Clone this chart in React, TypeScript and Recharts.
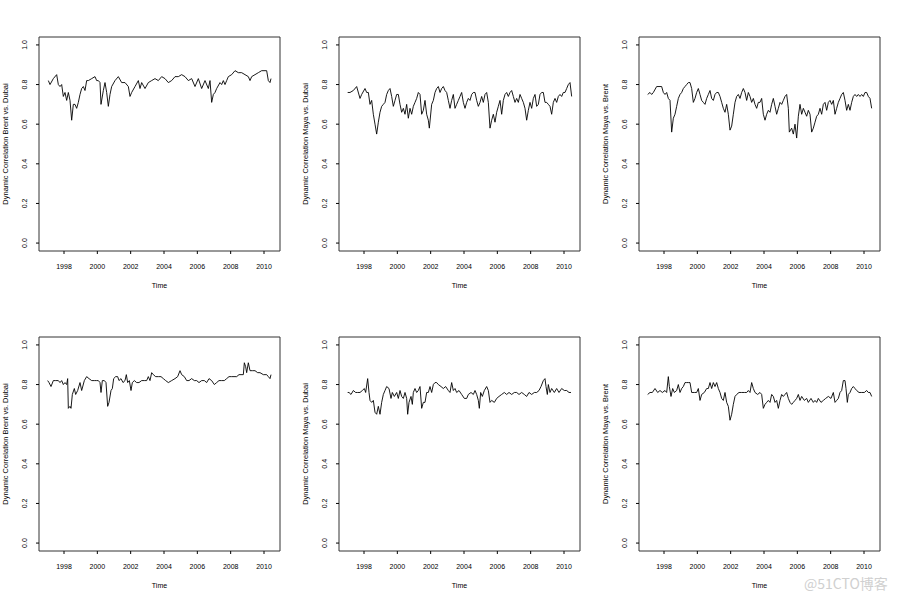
import { LineChart, Line, XAxis, YAxis, ReferenceArea } from "recharts";

// [year, dynamic correlation], one array per panel
const brentDubaiA: [number, number][] = [
  [1997.06, 0.82], [1997.16, 0.8], [1997.36, 0.83], [1997.56, 0.85], [1997.66, 0.8], [1997.76, 0.79],
  [1997.86, 0.8], [1997.96, 0.74], [1998.06, 0.76], [1998.16, 0.72], [1998.26, 0.76], [1998.36, 0.72],
  [1998.46, 0.62], [1998.56, 0.7], [1998.66, 0.7], [1998.76, 0.68], [1998.86, 0.71], [1998.96, 0.75],
  [1999.06, 0.78], [1999.16, 0.79], [1999.26, 0.77], [1999.36, 0.82], [1999.46, 0.82], [1999.66, 0.83],
  [1999.86, 0.84], [1999.96, 0.82], [2000.06, 0.82], [2000.16, 0.81], [2000.22, 0.7], [2000.36, 0.77],
  [2000.46, 0.81], [2000.56, 0.76], [2000.66, 0.69], [2000.76, 0.75], [2000.86, 0.79], [2001.06, 0.82],
  [2001.26, 0.84], [2001.46, 0.81], [2001.66, 0.81], [2001.86, 0.79], [2001.96, 0.74], [2002.06, 0.76],
  [2002.26, 0.79], [2002.46, 0.82], [2002.56, 0.78], [2002.66, 0.81], [2002.86, 0.78], [2003.06, 0.81],
  [2003.26, 0.82], [2003.46, 0.83], [2003.66, 0.82], [2003.86, 0.84], [2004.06, 0.83], [2004.26, 0.81],
  [2004.46, 0.82], [2004.66, 0.84], [2004.86, 0.84], [2005.06, 0.85], [2005.26, 0.84], [2005.46, 0.82],
  [2005.66, 0.83], [2005.86, 0.79], [2006.06, 0.83], [2006.26, 0.78], [2006.46, 0.82], [2006.66, 0.78],
  [2006.76, 0.82], [2006.86, 0.71], [2006.96, 0.75], [2007.06, 0.76], [2007.16, 0.78], [2007.36, 0.81],
  [2007.46, 0.8], [2007.56, 0.82], [2007.66, 0.8], [2007.76, 0.82], [2007.86, 0.84], [2008.06, 0.85],
  [2008.26, 0.87], [2008.46, 0.86], [2008.66, 0.86], [2008.86, 0.85], [2009.06, 0.84], [2009.16, 0.82],
  [2009.26, 0.84], [2009.46, 0.85], [2009.66, 0.86], [2009.86, 0.87], [2010.16, 0.87], [2010.26, 0.82],
  [2010.36, 0.81], [2010.42, 0.83],
];

const mayaDubaiA: [number, number][] = [
  [1997.02, 0.76], [1997.16, 0.76], [1997.36, 0.77], [1997.56, 0.79], [1997.76, 0.73], [1997.86, 0.75],
  [1998.06, 0.78], [1998.16, 0.76], [1998.26, 0.76], [1998.36, 0.7], [1998.46, 0.72], [1998.56, 0.65],
  [1998.66, 0.6], [1998.76, 0.55], [1998.86, 0.61], [1998.96, 0.66], [1999.06, 0.69], [1999.16, 0.7],
  [1999.26, 0.71], [1999.36, 0.75], [1999.46, 0.77], [1999.56, 0.78], [1999.66, 0.74], [1999.76, 0.69],
  [1999.86, 0.72], [1999.96, 0.75], [2000.06, 0.75], [2000.16, 0.7], [2000.26, 0.66], [2000.36, 0.68],
  [2000.46, 0.65], [2000.56, 0.7], [2000.66, 0.63], [2000.76, 0.68], [2000.86, 0.65], [2000.96, 0.69],
  [2001.06, 0.71], [2001.16, 0.73], [2001.26, 0.76], [2001.36, 0.75], [2001.46, 0.65], [2001.56, 0.67],
  [2001.66, 0.72], [2001.76, 0.65], [2001.86, 0.62], [2001.92, 0.58], [2002.06, 0.7], [2002.16, 0.72],
  [2002.26, 0.76], [2002.36, 0.78], [2002.46, 0.79], [2002.56, 0.76], [2002.66, 0.78], [2002.76, 0.79],
  [2002.86, 0.77], [2002.96, 0.76], [2003.06, 0.72], [2003.16, 0.68], [2003.26, 0.72], [2003.36, 0.75],
  [2003.46, 0.68], [2003.56, 0.7], [2003.66, 0.72], [2003.76, 0.74], [2003.86, 0.76], [2003.96, 0.71],
  [2004.06, 0.68], [2004.16, 0.71], [2004.26, 0.73], [2004.36, 0.72], [2004.46, 0.75], [2004.56, 0.76],
  [2004.66, 0.76], [2004.76, 0.72], [2004.86, 0.69], [2004.96, 0.71], [2005.06, 0.74], [2005.16, 0.71],
  [2005.26, 0.75], [2005.36, 0.76], [2005.46, 0.71], [2005.56, 0.58], [2005.66, 0.62], [2005.76, 0.65],
  [2005.86, 0.61], [2005.96, 0.66], [2006.06, 0.69], [2006.16, 0.72], [2006.26, 0.65], [2006.36, 0.72],
  [2006.46, 0.75], [2006.56, 0.76], [2006.66, 0.74], [2006.76, 0.76], [2006.86, 0.77], [2006.96, 0.74],
  [2007.06, 0.71], [2007.16, 0.73], [2007.26, 0.71], [2007.36, 0.75], [2007.46, 0.73], [2007.56, 0.71],
  [2007.66, 0.68], [2007.76, 0.62], [2007.86, 0.67], [2007.96, 0.71], [2008.06, 0.68], [2008.16, 0.73],
  [2008.26, 0.75], [2008.36, 0.69], [2008.46, 0.7], [2008.56, 0.75], [2008.66, 0.76], [2008.76, 0.76],
  [2008.86, 0.71], [2008.96, 0.71], [2009.06, 0.7], [2009.16, 0.69], [2009.26, 0.65], [2009.36, 0.71],
  [2009.46, 0.73], [2009.56, 0.71], [2009.66, 0.74], [2009.76, 0.75], [2009.86, 0.74], [2009.96, 0.76],
  [2010.06, 0.76], [2010.16, 0.78], [2010.26, 0.8], [2010.36, 0.81], [2010.46, 0.74],
];

const mayaBrentA: [number, number][] = [
  [1997.02, 0.75], [1997.16, 0.76], [1997.26, 0.75], [1997.36, 0.76], [1997.56, 0.79], [1997.76, 0.79],
  [1997.86, 0.79], [1997.96, 0.76], [1998.06, 0.75], [1998.16, 0.76], [1998.26, 0.73], [1998.36, 0.72],
  [1998.46, 0.56], [1998.56, 0.63], [1998.66, 0.65], [1998.76, 0.69], [1998.86, 0.73], [1998.96, 0.75],
  [1999.06, 0.76], [1999.16, 0.78], [1999.26, 0.79], [1999.36, 0.8], [1999.46, 0.81], [1999.56, 0.81],
  [1999.66, 0.78], [1999.76, 0.71], [1999.86, 0.73], [1999.96, 0.76], [2000.06, 0.78], [2000.16, 0.75],
  [2000.26, 0.72], [2000.36, 0.71], [2000.46, 0.7], [2000.56, 0.73], [2000.66, 0.75], [2000.76, 0.77],
  [2000.86, 0.73], [2000.96, 0.72], [2001.06, 0.75], [2001.16, 0.76], [2001.26, 0.76], [2001.36, 0.74],
  [2001.46, 0.71], [2001.56, 0.68], [2001.66, 0.66], [2001.76, 0.7], [2001.86, 0.65], [2001.96, 0.57],
  [2002.06, 0.59], [2002.16, 0.65], [2002.26, 0.71], [2002.36, 0.74], [2002.46, 0.75], [2002.56, 0.73],
  [2002.66, 0.76], [2002.76, 0.78], [2002.86, 0.76], [2002.96, 0.72], [2003.06, 0.76], [2003.16, 0.74],
  [2003.26, 0.71], [2003.36, 0.73], [2003.46, 0.7], [2003.56, 0.68], [2003.66, 0.71], [2003.76, 0.71],
  [2003.86, 0.73], [2003.96, 0.65], [2004.06, 0.62], [2004.16, 0.65], [2004.26, 0.67], [2004.36, 0.66],
  [2004.46, 0.7], [2004.56, 0.73], [2004.66, 0.69], [2004.76, 0.65], [2004.86, 0.68], [2004.96, 0.71],
  [2005.06, 0.7], [2005.16, 0.72], [2005.26, 0.74], [2005.36, 0.75], [2005.46, 0.68], [2005.52, 0.56],
  [2005.66, 0.58], [2005.76, 0.55], [2005.86, 0.6], [2005.96, 0.53], [2006.06, 0.64], [2006.16, 0.7],
  [2006.26, 0.65], [2006.36, 0.68], [2006.46, 0.66], [2006.56, 0.64], [2006.66, 0.67], [2006.76, 0.65],
  [2006.86, 0.56], [2006.96, 0.58], [2007.06, 0.61], [2007.16, 0.64], [2007.26, 0.65], [2007.36, 0.68],
  [2007.46, 0.65], [2007.56, 0.7], [2007.66, 0.71], [2007.76, 0.67], [2007.86, 0.71], [2007.96, 0.72],
  [2008.06, 0.7], [2008.16, 0.72], [2008.26, 0.65], [2008.36, 0.68], [2008.46, 0.71], [2008.56, 0.73],
  [2008.66, 0.75], [2008.76, 0.76], [2008.86, 0.72], [2008.96, 0.67], [2009.06, 0.7], [2009.16, 0.67],
  [2009.26, 0.71], [2009.36, 0.74], [2009.46, 0.75], [2009.56, 0.74], [2009.66, 0.75], [2009.76, 0.74],
  [2009.86, 0.75], [2009.96, 0.74], [2010.06, 0.76], [2010.16, 0.76], [2010.26, 0.74], [2010.36, 0.73],
  [2010.46, 0.68],
];

const brentDubaiB: [number, number][] = [
  [1997.02, 0.82], [1997.1, 0.81], [1997.22, 0.79], [1997.36, 0.82], [1997.5, 0.82], [1997.66, 0.82],
  [1997.76, 0.81], [1997.86, 0.82], [1997.96, 0.8], [1998.06, 0.81], [1998.16, 0.8], [1998.22, 0.83],
  [1998.26, 0.68], [1998.36, 0.69], [1998.42, 0.68], [1998.5, 0.75], [1998.62, 0.78], [1998.7, 0.75],
  [1998.82, 0.77], [1998.96, 0.81], [1999.06, 0.77], [1999.22, 0.82], [1999.36, 0.84], [1999.5, 0.83],
  [1999.66, 0.82], [1999.82, 0.82], [1999.96, 0.82], [2000.06, 0.82], [2000.16, 0.81], [2000.22, 0.76],
  [2000.3, 0.82], [2000.42, 0.82], [2000.52, 0.81], [2000.62, 0.69], [2000.7, 0.71], [2000.82, 0.77],
  [2000.9, 0.78], [2000.98, 0.83], [2001.1, 0.84], [2001.22, 0.84], [2001.3, 0.82], [2001.42, 0.83],
  [2001.54, 0.81], [2001.66, 0.82], [2001.74, 0.85], [2001.82, 0.81], [2001.92, 0.82], [2002.02, 0.77],
  [2002.1, 0.81], [2002.22, 0.82], [2002.36, 0.81], [2002.5, 0.81], [2002.66, 0.82], [2002.82, 0.82],
  [2002.96, 0.82], [2003.06, 0.84], [2003.16, 0.82], [2003.26, 0.86], [2003.36, 0.85], [2003.5, 0.84],
  [2003.66, 0.84], [2003.82, 0.84], [2003.96, 0.83], [2004.1, 0.82], [2004.26, 0.81], [2004.46, 0.82],
  [2004.66, 0.83], [2004.82, 0.84], [2004.96, 0.87], [2005.06, 0.85], [2005.22, 0.84], [2005.36, 0.82],
  [2005.5, 0.82], [2005.66, 0.83], [2005.82, 0.82], [2005.96, 0.82], [2006.1, 0.81], [2006.26, 0.82],
  [2006.42, 0.82], [2006.56, 0.81], [2006.7, 0.83], [2006.86, 0.82], [2007.02, 0.8], [2007.16, 0.81],
  [2007.3, 0.82], [2007.46, 0.82], [2007.62, 0.82], [2007.76, 0.83], [2007.9, 0.84], [2008.06, 0.84],
  [2008.2, 0.84], [2008.36, 0.84], [2008.5, 0.85], [2008.76, 0.85], [2008.82, 0.91], [2008.9, 0.89],
  [2008.96, 0.86], [2009.06, 0.91], [2009.16, 0.87], [2009.3, 0.87], [2009.46, 0.87], [2009.62, 0.86],
  [2009.76, 0.86], [2009.96, 0.85], [2010.16, 0.85], [2010.26, 0.84], [2010.36, 0.83], [2010.42, 0.85],
];

const mayaDubaiB: [number, number][] = [
  [1997.02, 0.76], [1997.1, 0.76], [1997.22, 0.75], [1997.36, 0.77], [1997.5, 0.76], [1997.62, 0.76],
  [1997.76, 0.76], [1997.9, 0.77], [1998.02, 0.78], [1998.1, 0.76], [1998.22, 0.83], [1998.3, 0.76],
  [1998.36, 0.72], [1998.46, 0.71], [1998.56, 0.72], [1998.66, 0.66], [1998.76, 0.65], [1998.86, 0.69],
  [1998.96, 0.65], [1999.06, 0.71], [1999.16, 0.75], [1999.26, 0.77], [1999.36, 0.79], [1999.5, 0.78],
  [1999.62, 0.73], [1999.7, 0.76], [1999.82, 0.74], [1999.96, 0.76], [2000.06, 0.73], [2000.16, 0.77],
  [2000.26, 0.74], [2000.36, 0.73], [2000.46, 0.76], [2000.56, 0.73], [2000.62, 0.65], [2000.7, 0.71],
  [2000.82, 0.74], [2000.9, 0.7], [2000.96, 0.76], [2001.06, 0.78], [2001.16, 0.76], [2001.26, 0.77],
  [2001.36, 0.79], [2001.46, 0.68], [2001.56, 0.71], [2001.66, 0.71], [2001.76, 0.76], [2001.86, 0.76],
  [2001.96, 0.79], [2002.06, 0.76], [2002.16, 0.8], [2002.26, 0.81], [2002.36, 0.81], [2002.46, 0.8],
  [2002.62, 0.79], [2002.76, 0.78], [2002.9, 0.79], [2003.06, 0.77], [2003.16, 0.76], [2003.26, 0.81],
  [2003.36, 0.77], [2003.46, 0.78], [2003.56, 0.76], [2003.7, 0.77], [2003.86, 0.75], [2004.02, 0.73],
  [2004.16, 0.73], [2004.26, 0.75], [2004.42, 0.76], [2004.56, 0.75], [2004.66, 0.77], [2004.76, 0.75],
  [2004.86, 0.72], [2004.92, 0.68], [2005.0, 0.76], [2005.1, 0.74], [2005.22, 0.77], [2005.36, 0.79],
  [2005.46, 0.77], [2005.56, 0.71], [2005.66, 0.72], [2005.82, 0.71], [2005.96, 0.73], [2006.1, 0.74],
  [2006.26, 0.75], [2006.42, 0.76], [2006.56, 0.75], [2006.7, 0.76], [2006.86, 0.75], [2007.02, 0.76],
  [2007.16, 0.76], [2007.3, 0.75], [2007.46, 0.76], [2007.62, 0.75], [2007.76, 0.74], [2007.9, 0.76],
  [2008.06, 0.75], [2008.22, 0.76], [2008.36, 0.76], [2008.5, 0.77], [2008.62, 0.79], [2008.76, 0.82],
  [2008.86, 0.83], [2008.92, 0.79], [2009.0, 0.75], [2009.06, 0.8], [2009.16, 0.76], [2009.26, 0.78],
  [2009.42, 0.76], [2009.56, 0.78], [2009.7, 0.76], [2009.86, 0.78], [2010.02, 0.77], [2010.16, 0.77],
  [2010.3, 0.76], [2010.42, 0.76],
];

const mayaBrentB: [number, number][] = [
  [1997.02, 0.75], [1997.16, 0.76], [1997.3, 0.76], [1997.46, 0.78], [1997.62, 0.76], [1997.76, 0.77],
  [1997.9, 0.76], [1998.06, 0.77], [1998.16, 0.76], [1998.26, 0.84], [1998.32, 0.79], [1998.42, 0.74],
  [1998.52, 0.78], [1998.62, 0.76], [1998.76, 0.77], [1998.86, 0.8], [1998.96, 0.76], [1999.06, 0.78],
  [1999.16, 0.79], [1999.26, 0.81], [1999.36, 0.81], [1999.46, 0.81], [1999.56, 0.81], [1999.66, 0.76],
  [1999.82, 0.76], [1999.96, 0.76], [2000.06, 0.78], [2000.16, 0.72], [2000.26, 0.75], [2000.42, 0.76],
  [2000.56, 0.78], [2000.66, 0.78], [2000.76, 0.81], [2000.86, 0.78], [2000.96, 0.81], [2001.06, 0.79],
  [2001.16, 0.81], [2001.26, 0.78], [2001.36, 0.76], [2001.46, 0.73], [2001.56, 0.72], [2001.66, 0.76],
  [2001.76, 0.71], [2001.86, 0.69], [2001.96, 0.62], [2002.06, 0.65], [2002.16, 0.7], [2002.26, 0.74],
  [2002.36, 0.75], [2002.5, 0.76], [2002.66, 0.76], [2002.82, 0.76], [2002.96, 0.76], [2003.06, 0.77],
  [2003.16, 0.76], [2003.26, 0.81], [2003.36, 0.78], [2003.46, 0.76], [2003.62, 0.75], [2003.76, 0.76],
  [2003.86, 0.75], [2003.96, 0.68], [2004.06, 0.7], [2004.16, 0.71], [2004.26, 0.72], [2004.36, 0.71],
  [2004.46, 0.75], [2004.56, 0.74], [2004.66, 0.71], [2004.76, 0.72], [2004.86, 0.68], [2004.96, 0.72],
  [2005.06, 0.75], [2005.16, 0.74], [2005.26, 0.75], [2005.36, 0.76], [2005.46, 0.73], [2005.56, 0.71],
  [2005.66, 0.7], [2005.76, 0.71], [2005.86, 0.72], [2005.96, 0.73], [2006.06, 0.75], [2006.16, 0.72],
  [2006.26, 0.74], [2006.42, 0.72], [2006.56, 0.73], [2006.66, 0.71], [2006.82, 0.73], [2006.96, 0.71],
  [2007.06, 0.72], [2007.16, 0.71], [2007.26, 0.73], [2007.42, 0.71], [2007.56, 0.72], [2007.7, 0.73],
  [2007.86, 0.74], [2008.02, 0.73], [2008.16, 0.76], [2008.26, 0.71], [2008.36, 0.72], [2008.46, 0.73],
  [2008.56, 0.76], [2008.66, 0.77], [2008.76, 0.82], [2008.86, 0.82], [2008.92, 0.78], [2009.0, 0.71],
  [2009.06, 0.75], [2009.16, 0.76], [2009.26, 0.78], [2009.36, 0.79], [2009.46, 0.78], [2009.56, 0.77],
  [2009.7, 0.76], [2009.86, 0.76], [2010.02, 0.76], [2010.16, 0.77], [2010.26, 0.76], [2010.36, 0.76],
  [2010.46, 0.74],
];

const yearTicks = [1998, 2000, 2002, 2004, 2006, 2008, 2010];
const corrTicks = [0, 0.2, 0.4, 0.6, 0.8, 1.0];

const panels = [
  { series: brentDubaiA, ylab: "Dynamic Correlation Brent vs. Dubai" },
  { series: mayaDubaiA, ylab: "Dynamic Correlation Maya vs. Dubai" },
  { series: mayaBrentA, ylab: "Dynamic Correlation Maya vs. Brent" },
  { series: brentDubaiB, ylab: "Dynamic Correlation Brent vs. Dubai" },
  { series: mayaDubaiB, ylab: "Dynamic Correlation Maya vs. Dubai" },
  { series: mayaBrentB, ylab: "Dynamic Correlation Maya vs. Brent" },
];

const FONT = "'Liberation Sans', Arial, Helvetica, sans-serif";
const X_DOMAIN: [number, number] = [1996.5, 2010.96];
const Y_DOMAIN: [number, number] = [-0.04, 1.04];

const XTick = ({ x, y, payload }: any) => (
  <text x={x} y={y + 14.5} textAnchor="middle" fontSize={7} fontFamily={FONT} fill="#000">
    {payload.value}
  </text>
);

const YTick = ({ x, y, payload }: any) => {
  const bx = x - 8.5;
  return (
    <text
      x={bx}
      y={y}
      textAnchor="middle"
      transform={`rotate(-90, ${bx}, ${y})`}
      fontSize={7}
      fontFamily={FONT}
      fill="#000"
    >
      {Number(payload.value).toFixed(1)}
    </text>
  );
};

function Panel({ series, ylab }: { series: [number, number][]; ylab: string }) {
  const data = series.map(([t, v]) => ({ t, v }));
  return (
    <LineChart width={300} height={300} data={data} margin={{ top: 37, right: 20, bottom: 0, left: 0 }}>
      <XAxis
        type="number"
        dataKey="t"
        domain={X_DOMAIN}
        ticks={yearTicks}
        interval={0}
        allowDataOverflow
        height={49}
        tickSize={3}
        tickMargin={0}
        axisLine={false}
        tickLine={{ stroke: "#000" }}
        tick={<XTick />}
        label={{
          content: () => (
            <text x={159.5} y={288} textAnchor="middle" fontSize={7} fontFamily={FONT} fill="#000">
              Time
            </text>
          ),
        }}
      />
      <YAxis
        type="number"
        domain={Y_DOMAIN}
        ticks={corrTicks}
        interval={0}
        allowDataOverflow
        width={39}
        tickSize={3}
        tickMargin={0}
        axisLine={false}
        tickLine={{ stroke: "#000" }}
        tick={<YTick />}
        label={{
          content: () => (
            <text
              x={8}
              y={144}
              textAnchor="middle"
              transform="rotate(-90, 8, 144)"
              fontSize={7.5}
              fontFamily={FONT}
              fill="#000"
            >
              {ylab}
            </text>
          ),
        }}
      />
      <ReferenceArea
        x1={X_DOMAIN[0]}
        x2={X_DOMAIN[1]}
        y1={Y_DOMAIN[0]}
        y2={Y_DOMAIN[1]}
        fill="none"
        stroke="#333"
        strokeWidth={1}
      />
      <Line
        type="linear"
        dataKey="v"
        stroke="#000"
        strokeWidth={0.9}
        dot={false}
        isAnimationActive={false}
      />
    </LineChart>
  );
}

export default function App() {
  return (
    <div style={{ position: "fixed", top: 0, left: 0, width: 900, height: 600, background: "#fff" }}>
      {panels.map((p, i) => (
        <div
          key={i}
          style={{ position: "absolute", left: (i % 3) * 300, top: Math.floor(i / 3) * 300, width: 300, height: 300 }}
        >
          <Panel series={p.series} ylab={p.ylab} />
        </div>
      ))}
      <div
        style={{
          position: "absolute",
          left: 804,
          top: 575,
          fontSize: 14,
          fontFamily: "'Noto Sans CJK SC', 'Noto Sans', sans-serif",
          color: "#d0d0d0",
          lineHeight: "16px",
        }}
      >
        @51CTO博客
      </div>
    </div>
  );
}
